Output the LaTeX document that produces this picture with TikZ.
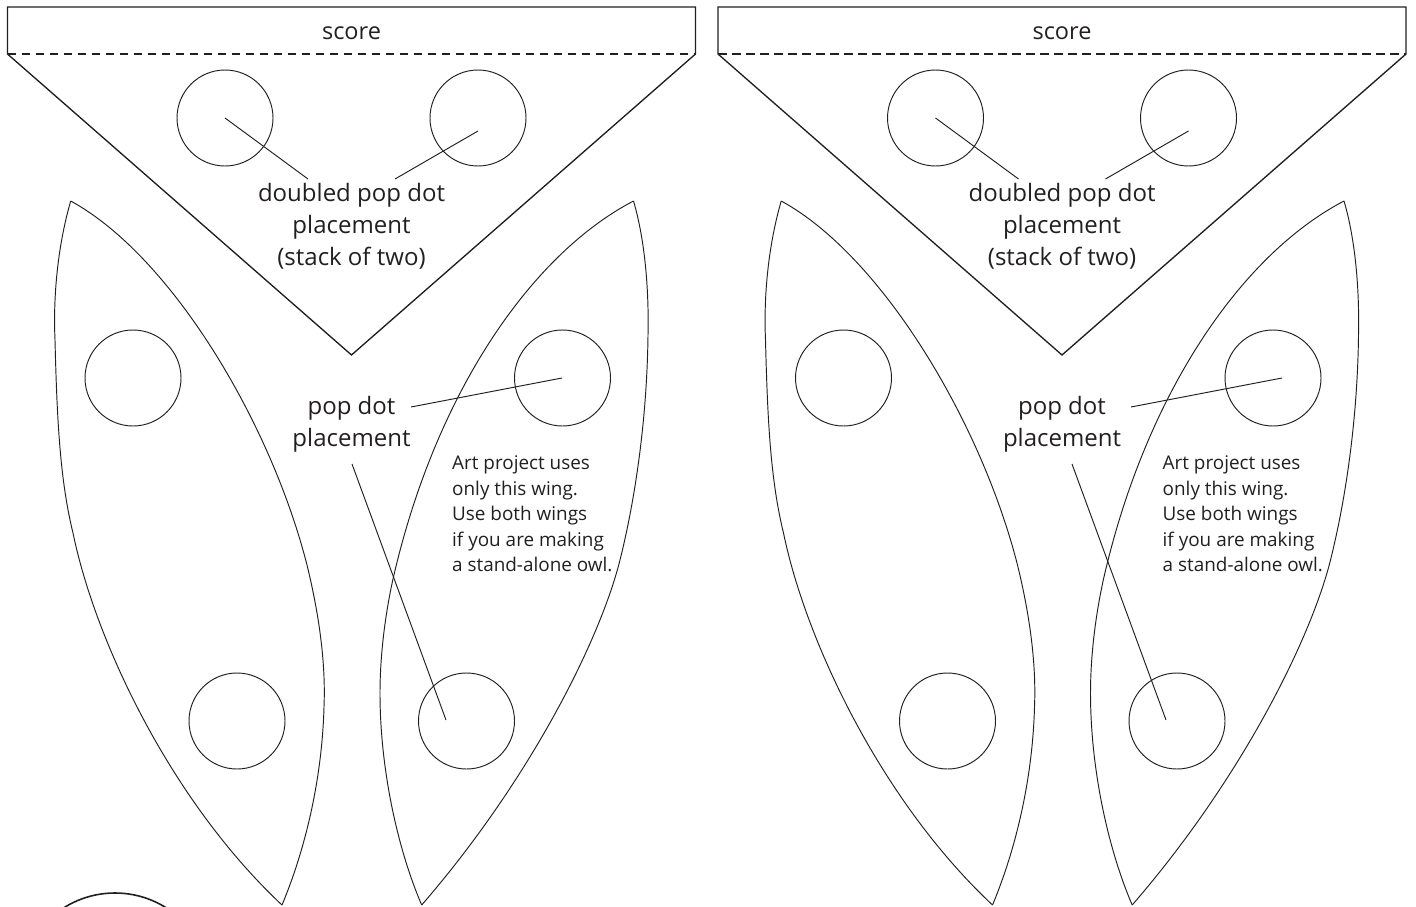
\documentclass[tikz,border=0pt]{standalone}
\usepackage{fontspec}
\setmainfont{Open Sans}
\definecolor{ink}{HTML}{231F20}
\tikzset{
  outline/.style={draw=ink,line width=0.95pt,fill=none},
  heavy/.style={draw=ink,line width=1.35pt,fill=none},
  dot/.style={circle,draw=ink,line width=0.95pt,minimum size=96pt,inner sep=0pt},
  leader/.style={draw=ink,line width=0.95pt},
  biglabel/.style={text=ink,font=\fontsize{24}{32}\selectfont,align=center,inner sep=0pt},
  smalllabel/.style={text=ink,font=\fontsize{18.9}{25.5}\selectfont,align=left,inner sep=0pt,anchor=north west},
}
\newcommand{\panel}[3]{%
\begin{scope}[shift={(#1,0)}]
  \draw[heavy] (7.5,54) -- (7.5,7) -- (695.5,7) -- (695.5,54) -- (351.5,355) -- cycle;
  \draw[draw=ink,line width=1.2pt,dash pattern=on 8.5pt off 5.5pt] (7.5,54) -- (695.5,54);
  \node[text=ink,font=\fontsize{23.5}{26}\selectfont,inner sep=0pt] (score#3) at (351.5,33) {score};
  \node[dot] (a#3) at (225,118) {};
  \node[dot] (b#3) at (478,118) {};
  \node[dot] (c#3) at (133,378) {};
  \node[dot] (d#3) at (562.5,378) {};
  \node[dot] (e#3) at (237,721) {};
  \node[dot] (f#3) at (466.5,721) {};
  \coordinate (aend#3) at (308,179);
  \coordinate (bend#3) at (395,179);
  \coordinate (bin#3) at (478,131);
  \coordinate (dend#3) at (411+#2,407);
  \coordinate (din#3) at (562+#2,378);
  \coordinate (fstart#3) at (352+#2,464);
  \coordinate (fin#3) at (446+#2,720);
  % left wing
  \draw[outline] (70.7,201) .. controls (58,245) and (53,295) .. (55,340)
     .. controls (57,420) and (60,480) .. (73,533)
     .. controls (95,640) and (170,800) .. (282,905);
  \draw[outline] (70.7,201) .. controls (170,255) and (270,420) .. (307,565)
     .. controls (318,610) and (326,660) .. (324,707)
     .. controls (322,780) and (305,850) .. (282,905);
  % right wing
  \draw[outline] (633.5,201) .. controls (645,240) and (649,290) .. (648,335)
     .. controls (647,420) and (635,500) .. (620,560)
     .. controls (600,640) and (530,780) .. (421.7,905);
  \draw[outline] (633.5,201) .. controls (530,255) and (435,395) .. (393,579)
     .. controls (384,620) and (380,660) .. (380,693)
     .. controls (380,770) and (398,850) .. (421.7,905);
  \node[biglabel] (t#3) at (351.5,226) {doubled pop dot\\placement\\(stack of two)};
  \node[biglabel] (p#3) at (351.5,424.5) {pop dot\\placement};
  \node[smalllabel] (n#3) at (452,455.5) {Art project uses\\only this wing.\\Use both wings\\if you are making\\a stand-alone owl.};
  \draw[leader] (a#3.center) -- (aend#3);
  \draw[leader] (bin#3) -- (bend#3);
  \draw[leader] (din#3) -- (dend#3);
  \draw[leader] (fstart#3) -- (fin#3);
\end{scope}}
\begin{document}
\begin{tikzpicture}[x=1pt,y=-1pt]
  \useasboundingbox (0,0) rectangle (1416,907);
  \panel{0}{0}{L}
  \panel{710.5}{9.5}{R}
  \begin{scope}
    \clip (0,0) rectangle (1416,907);
    \draw[draw=ink,line width=1.6pt] (115,989) circle (96);
  \end{scope}
\end{tikzpicture}
\end{document}
